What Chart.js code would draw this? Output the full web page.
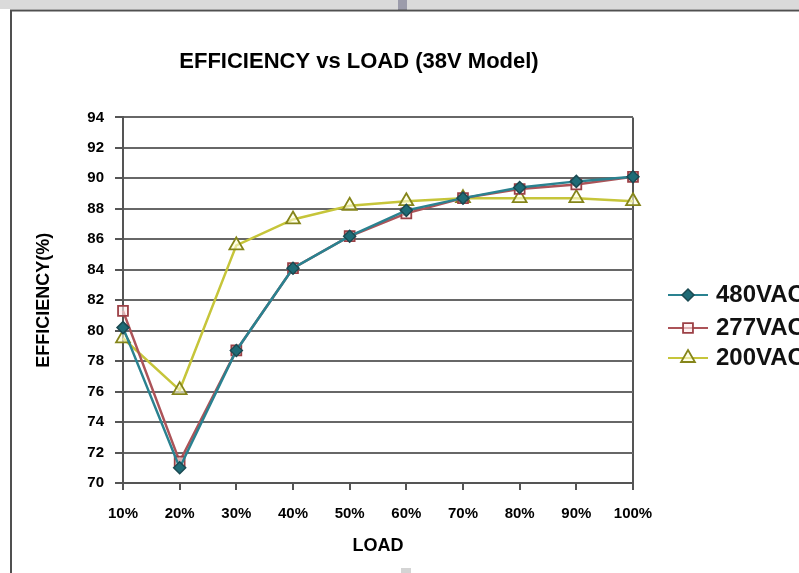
<!DOCTYPE html>
<html><head><meta charset="utf-8">
<script src="https://cdn.jsdelivr.net/npm/chart.js@4.4.0/dist/chart.umd.min.js"></script>
<style>
html,body{margin:0;padding:0;background:#fff;overflow:hidden}
#wrap{position:relative;width:799px;height:573px}
canvas{display:block}
</style></head><body>
<div id="wrap"><canvas id="c" width="799" height="573"></canvas></div>
<script>
const categories = ['10%','20%','30%','40%','50%','60%','70%','80%','90%','100%'];
const v480 = [80.2, 71.0, 78.7, 84.1, 86.2, 87.9, 88.7, 89.4, 89.8, 90.1];
const v277 = [81.3, 71.4, 78.7, 84.1, 86.2, 87.7, 88.7, 89.3, 89.6, 90.1];
const v200 = [79.5, 76.1, 85.6, 87.3, 88.2, 88.5, 88.7, 88.7, 88.7, 88.5];
const yTicks = [70, 72, 74, 76, 78, 80, 82, 84, 86, 88, 90, 92, 94];
const seriesNames = ['480VAC', '277VAC', '200VAC'];
const chartTitle = 'EFFICIENCY vs LOAD (38V Model)';
const xTitle = 'LOAD';
const yTitle = 'EFFICIENCY(%)';

const FONT = "'Liberation Sans', Arial, sans-serif";

const framePlugin = {
  id: 'frame',
  beforeDraw(chart) {
    const ctx = chart.ctx;
    ctx.save();
    ctx.fillStyle = '#dadada';
    ctx.fillRect(0, 0, 799, 9);
    ctx.fillStyle = '#9c9cab';
    ctx.fillRect(398, 0, 9, 11);
    ctx.strokeStyle = '#505050';
    ctx.lineWidth = 2;
    ctx.beginPath();
    ctx.moveTo(11, 573);
    ctx.lineTo(11, 10.5);
    ctx.lineTo(799, 10.5);
    ctx.stroke();
    ctx.fillStyle = '#d4d4d4';
    ctx.fillRect(401, 568, 10, 5);
    ctx.restore();
  }
};

function drawMarker(ctx, style, radius, x, y) {
  if (Chart.helpers && Chart.helpers.drawPoint) {
    Chart.helpers.drawPoint(ctx, {pointStyle: style, radius: radius, rotation: 0, borderWidth: ctx.lineWidth}, x, y);
  }
}

const legendPlugin = {
  id: 'sideLegend',
  afterDraw(chart) {
    const ctx = chart.ctx;
    ctx.save();
    const ys = [295, 328, 358];
    chart.data.datasets.forEach((ds, i) => {
      const y = ys[i];
      ctx.strokeStyle = ds.borderColor;
      ctx.lineWidth = 2;
      ctx.beginPath();
      ctx.moveTo(668, y);
      ctx.lineTo(708, y);
      ctx.stroke();
      ctx.fillStyle = ds.pointBackgroundColor;
      ctx.strokeStyle = ds.pointBorderColor;
      ctx.lineWidth = ds.pointBorderWidth;
      drawMarker(ctx, ds.pointStyle, ds.pointRadius, 688, y);
      ctx.fillStyle = '#111';
      ctx.font = "bold 24px " + FONT;
      ctx.textBaseline = 'middle';
      ctx.textAlign = 'left';
      ctx.fillText(ds.label, 716, y);
    });
    ctx.restore();
  }
};

new Chart(document.getElementById('c'), {
  type: 'line',
  data: {
    labels: categories,
    datasets: [
      {label: seriesNames[0], data: v480, borderColor: '#2a8290', borderWidth: 2.5,
       pointStyle: 'rectRot', pointRadius: 6, pointBackgroundColor: '#1f6b76',
       pointBorderColor: '#1b4a52', pointBorderWidth: 1.5, tension: 0},
      {label: seriesNames[1], data: v277, borderColor: '#ac5358', borderWidth: 2.5,
       pointStyle: 'rect', pointRadius: 7, pointBackgroundColor: 'rgba(255,235,235,0.6)',
       pointBorderColor: '#9c4046', pointBorderWidth: 1.8, tension: 0},
      {label: seriesNames[2], data: v200, borderColor: '#c6c53a', borderWidth: 2.5,
       pointStyle: 'triangle', pointRadius: 8, pointBackgroundColor: 'rgba(255,255,215,0.6)',
       pointBorderColor: '#85851a', pointBorderWidth: 1.8, tension: 0}
    ]
  },
  options: {
    responsive: false,
    devicePixelRatio: 1,
    animation: false,
    layout: {padding: {left: 0, right: 81, top: 0, bottom: 0}},
    plugins: {
      legend: {display: false},
      tooltip: {enabled: false},
      title: {
        display: true, text: chartTitle, color: '#000',
        font: {family: FONT, size: 22, weight: 'bold'},
        padding: {top: 49, bottom: 42}
      }
    },
    scales: {
      x: {
        type: 'category', offset: false,
        grid: {
          color: c => (c.index === categories.length - 1 ? '#555' : 'rgba(0,0,0,0)'),
          lineWidth: 2, tickLength: 7, tickColor: '#555', tickWidth: 2
        },
        border: {color: '#555', width: 2},
        ticks: {color: '#000', font: {family: FONT, size: 15, weight: 'bold'}, padding: 15, autoSkip: false, maxRotation: 0},
        title: {display: true, text: xTitle, color: '#000', font: {family: FONT, size: 18, weight: 'bold'}, padding: {top: 0, bottom: 16}},
        afterFit: s => { s.height = 90; }
      },
      y: {
        min: 70, max: 94,
        afterBuildTicks: s => { s.ticks = yTicks.map(v => ({value: v})); },
        grid: {color: '#676767', lineWidth: 2, tickLength: 8, tickColor: '#555', tickWidth: 2},
        border: {color: '#555', width: 2},
        ticks: {color: '#000', font: {family: FONT, size: 15, weight: 'bold'}, padding: 11},
        title: {display: true, text: yTitle, color: '#000', font: {family: FONT, size: 18, weight: 'bold'}, padding: {top: 33, bottom: 0}},
        afterFit: s => { s.width = 123; }
      },
      reserve: {
        type: 'linear', position: 'right', display: true,
        grid: {display: false, drawTicks: false}, border: {display: false},
        ticks: {display: false},
        afterFit: s => { s.width = 85; }
      }
    }
  },
  plugins: [framePlugin, legendPlugin]
});
</script>
</body></html>
